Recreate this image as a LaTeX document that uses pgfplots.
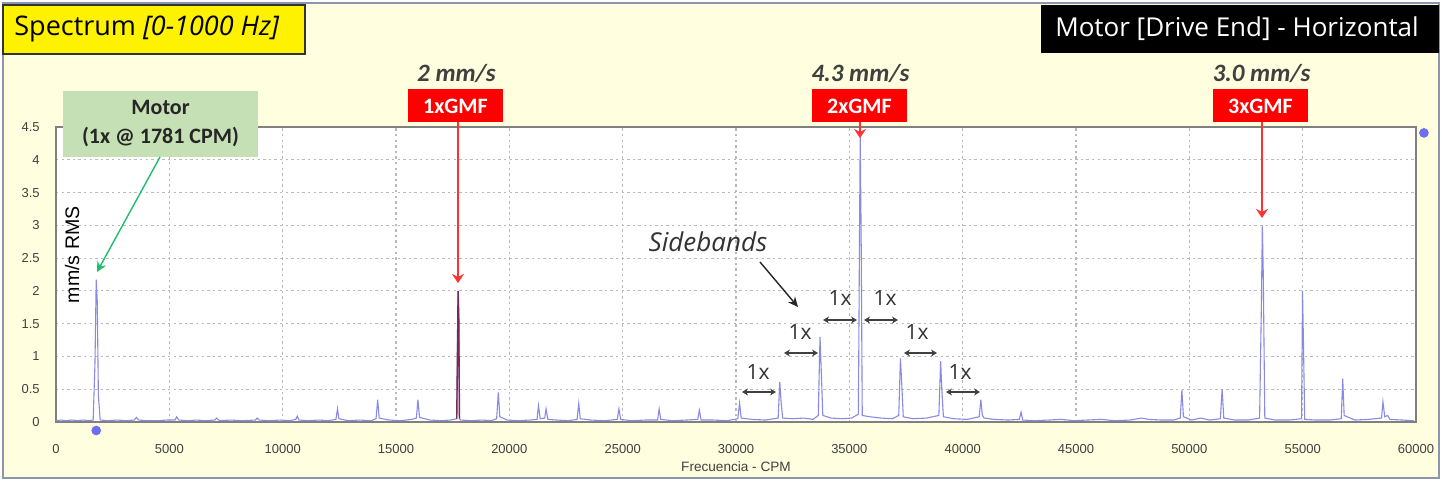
\documentclass[border=0pt]{standalone}
\usepackage{fontspec}
\setmainfont{Open Sans}
\newfontfamily\carl{Carlito}
\newfontfamily\tickf{Liberation Sans}
\usepackage{pgfplots}
\pgfplotsset{compat=1.18}
\usetikzlibrary{arrows.meta}
\definecolor{bgy}{RGB}{255,255,224}
\definecolor{frame}{RGB}{140,150,172}
\definecolor{spec}{RGB}{138,138,228}
\definecolor{gmfdark}{RGB}{120,40,90}
\definecolor{gridc}{RGB}{185,185,185}
\definecolor{tickc}{RGB}{64,64,64}
\definecolor{axisc}{RGB}{128,128,128}
\definecolor{gbox}{RGB}{197,224,180}
\definecolor{garrow}{RGB}{30,190,110}
\definecolor{rbox}{RGB}{255,0,0}
\definecolor{rarrow}{RGB}{255,50,50}
\definecolor{dot}{RGB}{110,110,240}
\begin{document}
\begin{tikzpicture}[x=1pt,y=1pt]
% page and frame
\fill[white] (0,0) rectangle (721,242);
\filldraw[fill=bgy,draw=frame,line width=1.2pt] (1.5,3) rectangle (719.5,240.5);
\filldraw[fill=yellow,draw=black!80,line width=0.8pt] (1.5,215) rectangle (152.5,239.5);
\node[anchor=west,inner sep=0pt,font=\fontsize{13.5}{15}\selectfont] at (7,227.3) {Spectrum \textit{[0-1000 Hz]}};
\fill[black] (520.5,215.5) rectangle (719.5,239.5);
\node[text=white,inner sep=0pt,font=\fontsize{13}{15}\selectfont] at (618.5,227.5) {Motor [Drive End] - Horizontal};
\begin{axis}[
  at={(28pt,31pt)}, anchor=south west,
  width=680pt, height=147.5pt, scale only axis,
  xmin=0, xmax=60000, ymin=0, ymax=4.5,
  xtick={0,5000,10000,15000,20000,25000,30000,35000,40000,45000,50000,55000,60000},
  ytick={0,0.5,1,1.5,2,2.5,3,3.5,4,4.5},
  scaled x ticks=false,
  /pgf/number format/1000 sep={},
  /pgf/number format/assume math mode=true,
  major tick length=0pt,
  axis background/.style={fill=white},
  axis line style={draw=axisc,line width=0.8pt},
  grid=major,
  major grid style={draw=gridc,line width=0.6pt,dash pattern=on 1.2pt off 1.6pt},
  tick label style={font=\tickf\fontsize{6.5}{7}\selectfont,text=tickc},
  xticklabel style={anchor=center,yshift=-13.5pt},
  yticklabel style={anchor=east,inner sep=0pt,xshift=-8pt},
  clip mode=individual,
]
\addplot[spec,line width=0.55pt] table {
0 0.02
200 0.03
450 0.02
700 0.03
950 0.02
1200 0.03
1450 0.02
1640 0.03
1720 0.9
1774 2.17
1820 1.85
1870 0.4
1950 0.03
2300 0.02
2700 0.03
3100 0.02
3450 0.03
3548 0.07
3650 0.03
4000 0.02
4500 0.02
4900 0.03
5250 0.03
5322 0.08
5420 0.03
5800 0.02
6200 0.03
6600 0.02
7000 0.03
7096 0.06
7200 0.02
7700 0.03
8200 0.02
8800 0.03
8870 0.06
8960 0.03
9400 0.02
9900 0.03
10300 0.02
10580 0.04
10644 0.09
10720 0.03
11100 0.02
11600 0.03
12000 0.02
12350 0.04
12418 0.2
12480 0.05
12900 0.02
13400 0.03
13900 0.02
14120 0.05
14192 0.34
14260 0.06
14700 0.03
15200 0.02
15700 0.04
15900 0.06
15966 0.34
16040 0.07
16500 0.03
17000 0.02
17400 0.03
17680 0.05
17740 2.0
17770 1.6
17800 0.05
17850 0.03
18300 0.02
18800 0.03
19200 0.02
19440 0.05
19514 0.45
19580 0.08
19900 0.03
20400 0.02
20900 0.03
21220 0.04
21288 0.25
21360 0.05
21560 0.06
21620 0.2
21700 0.04
22100 0.03
22600 0.02
22990 0.04
23062 0.28
23130 0.05
23600 0.03
24200 0.02
24760 0.04
24836 0.2
24910 0.04
25400 0.02
26000 0.03
26540 0.03
26610 0.2
26680 0.04
27200 0.02
27800 0.03
28310 0.04
28384 0.18
28460 0.03
29000 0.03
29600 0.02
30080 0.05
30158 0.29
30230 0.06
30700 0.04
31300 0.03
31860 0.06
31932 0.61
31990 0.3
32060 0.06
32500 0.05
33000 0.06
33400 0.04
33630 0.1
33706 1.3
33760 0.8
33830 0.1
34200 0.06
34700 0.05
35100 0.06
35400 0.12
35450 2.9
35480 4.35
35520 2.9
35570 0.1
35900 0.08
36400 0.06
36900 0.05
37180 0.1
37254 0.97
37310 0.6
37380 0.08
37800 0.05
38400 0.06
38950 0.1
39028 0.93
39080 0.5
39150 0.08
39600 0.05
40200 0.04
40730 0.08
40802 0.34
40870 0.1
40950 0.06
41400 0.04
42000 0.03
42500 0.04
42576 0.15
42650 0.03
43200 0.02
43800 0.03
44350 0.04
44900 0.02
45500 0.03
46124 0.04
46700 0.02
47400 0.03
47898 0.06
48200 0.04
48800 0.03
49300 0.03
49600 0.06
49672 0.49
49740 0.08
50100 0.03
50500 0.06
50900 0.03
51370 0.05
51446 0.5
51520 0.06
52000 0.03
52600 0.03
53100 0.06
53180 1.8
53220 3.0
53260 2.3
53330 0.06
53800 0.03
54400 0.03
54950 0.05
54994 2.0
55030 1.3
55090 0.04
55600 0.03
56200 0.03
56700 0.05
56768 0.66
56830 0.1
57300 0.03
57900 0.04
58480 0.06
58542 0.31
58620 0.08
58750 0.1
58850 0.04
59400 0.03
59900 0.02
};
\addplot[gmfdark,line width=0.7pt] table {
17680 0.05
17740 2.0
17770 1.6
17800 0.05
};
\addplot[only marks,mark=*,mark size=2.2pt,dot,clip=false] coordinates {(1774,-0.13) (60350,4.41)};
\node[rotate=90,inner sep=0pt,font=\tickf\fontsize{9.8}{11}\selectfont] at (axis cs:706,2.55) {mm/s RMS};
\end{axis}
% x label
\node[inner sep=0pt,font=\tickf\fontsize{6.8}{8}\selectfont,text=tickc] at (368,8.5) {Frecuencia - CPM};
% green motor box
\fill[gbox] (31.5,163.5) rectangle (129,196.5);
\node[align=center,inner sep=0pt,font=\carl\bfseries\fontsize{11}{14.5}\selectfont,text=black!85] at (80.25,180) {Motor\\(1x @ 1781 CPM)};
\draw[garrow,line width=0.7pt,-{Stealth[length=5pt,width=5pt]}] (80,163.5) -- (48.5,106);
% red GMF annotations
\foreach \cx/\ax/\tip/\lab/\val in {227.75/229/100.5/1xGMF/{2 mm/s}, 429.75/430/173/2xGMF/{4.3 mm/s}, 630.25/631/133/3xGMF/{3.0 mm/s}}{
  \fill[rbox] (\cx-23.75,181) rectangle (\cx+23.75,197.5);
  \node[text=white,inner sep=0pt,font=\carl\bfseries\fontsize{11}{12}\selectfont] at (\cx,189) {\lab};
  \node[text=tickc,inner sep=0pt,font=\carl\bfseries\itshape\fontsize{12.5}{14}\selectfont] at (\cx+0.5,205.5) {\val};
  \draw[rarrow,line width=0.7pt,-{Stealth[length=4.5pt,width=6pt]}] (\ax,181) -- (\ax,\tip);
}
% sidebands
\node[inner sep=0pt,font=\itshape\fontsize{13}{15}\selectfont,text=black!80] at (354,121) {Sidebands};
\draw[black!85,line width=0.7pt,-{Stealth[length=5pt,width=4.5pt]}] (380,111) -- (399,88.5);
\foreach \xa/\xb/\ya/\lx/\ly in {371/388/46/379/56, 392/409/65.5/400/76, 411.5/428.5/82/420/93, 432/449/82/442.5/93, 452/468.5/65.5/458.5/76, 473/490/46/480/56}{
  \draw[tickc,line width=0.6pt,{Stealth[length=3pt,width=3.5pt]}-{Stealth[length=3pt,width=3.5pt]}] (\xa,\ya) -- (\xb,\ya);
  \node[inner sep=0pt,font=\fontsize{10.5}{12}\selectfont,text=black!80] at (\lx,\ly) {1x};
}
\end{tikzpicture}
\end{document}
